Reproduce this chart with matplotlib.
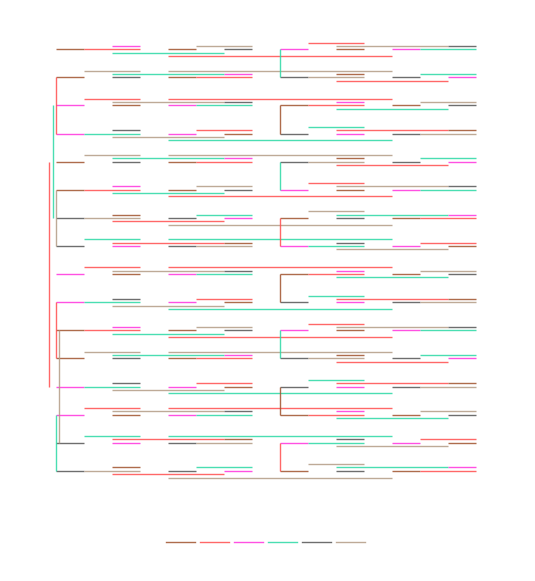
import matplotlib
matplotlib.use("Agg")
import matplotlib.pyplot as plt
from matplotlib.lines import Line2D

BROWN = "#a0522d"
RED = "#ff4d4d"
MAGENTA = "#ff33dd"
TEAL = "#2ad9a5"
GRAY = "#555555"
TAN = "#b39b85"
palette = [BROWN, RED, MAGENTA, TEAL, GRAY, TAN]

# one row per leaf; each entry is (lane, from column, to column, colour)
pattern_a = [
    (-2, 9, 11, RED),
    (-1, 2, 3, MAGENTA), (-1, 5, 7, TAN), (-1, 10, 14, TAN), (-1, 14, 15, GRAY),
    (0, 0, 1, BROWN), (0, 1, 3, RED), (0, 4, 5, BROWN), (0, 6, 7, GRAY),
    (0, 8, 9, MAGENTA), (0, 10, 11, BROWN), (0, 12, 13, MAGENTA), (0, 13, 15, TEAL),
    (1, 2, 6, TEAL),
    (2, 4, 12, RED),
]
pattern_b = [
    (-2, 1, 3, TAN), (-2, 4, 12, TAN),
    (-1, 2, 6, TEAL), (-1, 6, 7, MAGENTA), (-1, 10, 11, BROWN), (-1, 13, 15, TEAL),
    (0, 0, 1, BROWN), (0, 2, 3, GRAY), (0, 4, 5, BROWN), (0, 5, 7, RED),
    (0, 8, 9, GRAY), (0, 9, 11, TAN), (0, 12, 13, GRAY), (0, 14, 15, MAGENTA),
    (1, 10, 14, RED),
]
pattern_c = [
    (-2, 1, 3, RED), (-2, 4, 12, RED),
    (-1, 2, 6, TAN), (-1, 6, 7, GRAY), (-1, 10, 11, MAGENTA), (-1, 13, 15, TAN),
    (0, 0, 1, MAGENTA), (0, 2, 3, BROWN), (0, 4, 5, MAGENTA), (0, 5, 7, TEAL),
    (0, 8, 9, BROWN), (0, 9, 11, RED), (0, 12, 13, BROWN), (0, 14, 15, GRAY),
    (1, 10, 14, TEAL),
]
pattern_d = [
    (-2, 9, 11, TEAL),
    (-1, 2, 3, GRAY), (-1, 5, 7, RED), (-1, 10, 14, RED), (-1, 14, 15, BROWN),
    (0, 0, 1, MAGENTA), (0, 1, 3, TEAL), (0, 4, 5, MAGENTA), (0, 6, 7, BROWN),
    (0, 8, 9, GRAY), (0, 10, 11, MAGENTA), (0, 12, 13, GRAY), (0, 13, 15, TAN),
    (1, 2, 6, TAN),
    (2, 4, 12, TEAL),
]
pattern_e = [
    (-2, 9, 11, TAN),
    (-1, 2, 3, BROWN), (-1, 5, 7, TEAL), (-1, 10, 14, TEAL), (-1, 14, 15, MAGENTA),
    (0, 0, 1, GRAY), (0, 1, 3, TAN), (0, 4, 5, GRAY), (0, 6, 7, MAGENTA),
    (0, 8, 9, BROWN), (0, 10, 11, GRAY), (0, 12, 13, BROWN), (0, 13, 15, RED),
    (1, 2, 6, RED),
    (2, 4, 12, TAN),
]
pattern_f = [
    (-2, 1, 3, TEAL), (-2, 4, 12, TEAL),
    (-1, 2, 6, RED), (-1, 6, 7, BROWN), (-1, 10, 11, GRAY), (-1, 13, 15, RED),
    (0, 0, 1, GRAY), (0, 2, 3, MAGENTA), (0, 4, 5, GRAY), (0, 5, 7, TAN),
    (0, 8, 9, MAGENTA), (0, 9, 11, TEAL), (0, 12, 13, MAGENTA), (0, 14, 15, BROWN),
    (1, 10, 14, TAN),
]

leaf_patterns = [pattern_a, pattern_b, pattern_c, pattern_d,
                 pattern_b, pattern_a, pattern_e, pattern_f,
                 pattern_c, pattern_d, pattern_a, pattern_b,
                 pattern_d, pattern_c, pattern_f, pattern_e]

# vertical links on the left: (lane, first leaf, last leaf, colour)
left_links = [
    (0, 1, 3, RED), (-1, 2, 6, TEAL), (-2, 4, 12, RED), (0, 5, 7, TAN),
    (0, 9, 11, RED), (1, 10, 14, TAN), (0, 13, 15, TEAL),
]
# vertical links in the middle column
mid_col = 8
mid_links = [
    (0, 1, TEAL), (2, 3, BROWN), (4, 5, TEAL), (6, 7, RED),
    (8, 9, BROWN), (10, 11, TEAL), (12, 13, BROWN), (14, 15, RED),
]

lane_step = 0.119
lw = 1.0
alpha = 0.85

fig = plt.figure(figsize=(5.35, 5.81), dpi=100)
ax = fig.add_axes([0, 0, 1, 1])

for i, pattern in enumerate(leaf_patterns):
    for lane, c0, c1, colour in pattern:
        ax.hlines(i + lane * lane_step, c0, c1, color=colour, lw=lw, alpha=alpha)

for lane, a, b, colour in left_links:
    ax.vlines(lane * lane_step, a, b, color=colour, lw=lw, alpha=alpha)

for a, b, colour in mid_links:
    ax.vlines(mid_col, a, b, color=colour, lw=lw, alpha=alpha)

ax.set_xlim(-2.0, 17.107)
ax.set_ylim(18.92, -1.754)
ax.axis("off")

handles = [Line2D([], [], color=c, lw=lw, alpha=alpha) for c in palette]
fig.legend(handles, [""] * len(handles), loc="center",
           bbox_to_anchor=(0.497, 1 - 543 / 581), ncol=6, frameon=False,
           handlelength=2.09, handletextpad=0.0, columnspacing=0.36)

fig.savefig("out.png", dpi=100)
